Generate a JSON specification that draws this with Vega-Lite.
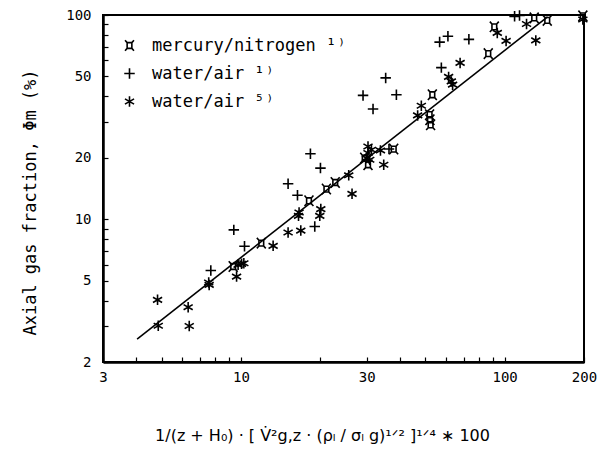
{
  "$schema": "https://vega.github.io/schema/vega-lite/v6.json",
  "autosize": {"type": "none"},
  "padding": {"left": 103, "top": 15, "right": 17, "bottom": 107},
  "width": 481,
  "height": 347,
  "background": "white",
  "config": {
    "view": {"stroke": "black", "strokeWidth": 2},
    "axis": {
      "grid": false,
      "domainColor": "black",
      "domainWidth": 2.5,
      "tickColor": "black",
      "tickWidth": 1.2,
      "tickSize": -5,
      "labelFont": "DejaVu Sans Mono",
      "labelFontSize": 14,
      "labelColor": "black",
      "labelFlush": false,
      "labelOverlap": false,
      "titleColor": "black",
      "titleFontWeight": "normal"
    }
  },
  "datasets": {
    "pts": [
      {"x": 4.83, "y": 4.03, "s": "water/air ⁵⁾"},
      {"x": 4.86, "y": 3.01, "s": "water/air ⁵⁾"},
      {"x": 6.31, "y": 3.71, "s": "water/air ⁵⁾"},
      {"x": 6.37, "y": 3.0, "s": "water/air ⁵⁾"},
      {"x": 7.58, "y": 4.77, "s": "water/air ⁵⁾"},
      {"x": 7.55, "y": 4.9, "s": "water/air ⁵⁾"},
      {"x": 9.76, "y": 5.98, "s": "water/air ⁵⁾"},
      {"x": 10.06, "y": 6.05, "s": "water/air ⁵⁾"},
      {"x": 10.26, "y": 6.09, "s": "water/air ⁵⁾"},
      {"x": 9.63, "y": 5.24, "s": "water/air ⁵⁾"},
      {"x": 13.25, "y": 7.41, "s": "water/air ⁵⁾"},
      {"x": 15.1, "y": 8.61, "s": "water/air ⁵⁾"},
      {"x": 16.87, "y": 8.8, "s": "water/air ⁵⁾"},
      {"x": 16.62, "y": 10.79, "s": "water/air ⁵⁾"},
      {"x": 16.54, "y": 10.39, "s": "water/air ⁵⁾"},
      {"x": 20.09, "y": 11.21, "s": "water/air ⁵⁾"},
      {"x": 19.91, "y": 10.39, "s": "water/air ⁵⁾"},
      {"x": 25.64, "y": 16.41, "s": "water/air ⁵⁾"},
      {"x": 26.39, "y": 13.32, "s": "water/air ⁵⁾"},
      {"x": 30.34, "y": 22.72, "s": "water/air ⁵⁾"},
      {"x": 31.26, "y": 21.89, "s": "water/air ⁵⁾"},
      {"x": 29.92, "y": 19.93, "s": "water/air ⁵⁾"},
      {"x": 30.8, "y": 19.55, "s": "water/air ⁵⁾"},
      {"x": 30.34, "y": 21.09, "s": "water/air ⁵⁾"},
      {"x": 33.82, "y": 21.72, "s": "water/air ⁵⁾"},
      {"x": 34.8, "y": 18.48, "s": "water/air ⁵⁾"},
      {"x": 48.33, "y": 35.96, "s": "water/air ⁵⁾"},
      {"x": 46.8, "y": 32.24, "s": "water/air ⁵⁾"},
      {"x": 61.33, "y": 49.75, "s": "water/air ⁵⁾"},
      {"x": 62.8, "y": 47.3, "s": "water/air ⁵⁾"},
      {"x": 63.5, "y": 45.6, "s": "water/air ⁵⁾"},
      {"x": 67.8, "y": 58.25, "s": "water/air ⁵⁾"},
      {"x": 101.3, "y": 74.65, "s": "water/air ⁵⁾"},
      {"x": 93.8, "y": 81.7, "s": "water/air ⁵⁾"},
      {"x": 121.1, "y": 90.4, "s": "water/air ⁵⁾"},
      {"x": 131.3, "y": 75.1, "s": "water/air ⁵⁾"},
      {"x": 198, "y": 95, "s": "water/air ⁵⁾"},
      {"x": 7.69, "y": 5.61, "s": "water/air ¹⁾"},
      {"x": 9.4, "y": 8.87, "s": "water/air ¹⁾"},
      {"x": 10.32, "y": 7.37, "s": "water/air ¹⁾"},
      {"x": 15.1, "y": 14.92, "s": "water/air ¹⁾"},
      {"x": 16.39, "y": 13.1, "s": "water/air ¹⁾"},
      {"x": 18.35, "y": 20.92, "s": "water/air ¹⁾"},
      {"x": 20.03, "y": 17.8, "s": "water/air ¹⁾"},
      {"x": 19.06, "y": 9.21, "s": "water/air ¹⁾"},
      {"x": 29.05, "y": 40.4, "s": "water/air ¹⁾"},
      {"x": 31.7, "y": 34.65, "s": "water/air ¹⁾"},
      {"x": 35.4, "y": 49.2, "s": "water/air ¹⁾"},
      {"x": 38.87, "y": 40.7, "s": "water/air ¹⁾"},
      {"x": 36.44, "y": 22.06, "s": "water/air ¹⁾"},
      {"x": 56.7, "y": 73.67, "s": "water/air ¹⁾"},
      {"x": 60.96, "y": 78.65, "s": "water/air ¹⁾"},
      {"x": 73.2, "y": 76.0, "s": "water/air ¹⁾"},
      {"x": 57.56, "y": 55.25, "s": "water/air ¹⁾"},
      {"x": 109.1, "y": 98.5, "s": "water/air ¹⁾"},
      {"x": 113.9, "y": 99.5, "s": "water/air ¹⁾"},
      {"x": 9.35, "y": 5.87, "s": "mercury/nitrogen ¹⁾"},
      {"x": 11.95, "y": 7.64, "s": "mercury/nitrogen ¹⁾"},
      {"x": 18.12, "y": 12.31, "s": "mercury/nitrogen ¹⁾"},
      {"x": 21.1, "y": 14.05, "s": "mercury/nitrogen ¹⁾"},
      {"x": 22.79, "y": 15.13, "s": "mercury/nitrogen ¹⁾"},
      {"x": 30.34, "y": 18.48, "s": "mercury/nitrogen ¹⁾"},
      {"x": 29.48, "y": 19.93, "s": "mercury/nitrogen ¹⁾"},
      {"x": 37.97, "y": 22.06, "s": "mercury/nitrogen ¹⁾"},
      {"x": 53.2, "y": 40.7, "s": "mercury/nitrogen ¹⁾"},
      {"x": 51.95, "y": 32.5, "s": "mercury/nitrogen ¹⁾"},
      {"x": 52.1, "y": 30.7, "s": "mercury/nitrogen ¹⁾"},
      {"x": 52.4, "y": 29.0, "s": "mercury/nitrogen ¹⁾"},
      {"x": 86.7, "y": 64.7, "s": "mercury/nitrogen ¹⁾"},
      {"x": 91.4, "y": 87.5, "s": "mercury/nitrogen ¹⁾"},
      {"x": 129.5, "y": 96.8, "s": "mercury/nitrogen ¹⁾"},
      {"x": 145.1, "y": 94.1, "s": "mercury/nitrogen ¹⁾"},
      {"x": 198, "y": 99, "s": "mercury/nitrogen ¹⁾"}
    ],
    "fit": [
      {"x": 4.04, "y": 2.59},
      {"x": 145.5, "y": 98}
    ]
  },
  "layer": [
    {
      "data": {"name": "fit"},
      "mark": {"type": "line", "color": "black", "strokeWidth": 1.6},
      "encoding": {
        "x": {"field": "x", "type": "quantitative", "scale": {"type": "log", "domain": [3, 200], "nice": false},
          "axis": {
            "values": [3, 4, 5, 6, 7, 8, 9, 10, 20, 30, 40, 50, 60, 70, 80, 90, 100, 200],
            "labelExpr": "indexof([3,10,30,100,200], datum.value) >= 0 ? datum.value : ''",
            "labelPadding": 13,
            "title": "1/(z + H₀) · [ V̇²g,z · (ρₗ / σₗ g)¹ᐟ² ]¹ᐟ⁴ ∗ 100",
            "titleFont": "DejaVu Sans",
            "titleFontSize": 16,
            "titleX": 219,
            "titleY": 73,
            "titleBaseline": "middle"
          }
        },
        "y": {"field": "y", "type": "quantitative", "scale": {"type": "log", "domain": [2, 100], "nice": false},
          "axis": {
            "values": [2, 3, 4, 5, 6, 7, 8, 9, 10, 20, 30, 40, 50, 60, 70, 80, 90, 100],
            "labelExpr": "indexof([2,5,10,20,50,100], datum.value) >= 0 ? datum.value : ''",
            "labelPadding": 17,
            "title": "Axial gas fraction, Φm (%)",
            "titleFont": "DejaVu Sans Mono",
            "titleFontSize": 17,
            "titleX": -73,
            "titleY": 187,
            "titleAngle": -90,
            "titleAlign": "center",
            "titleBaseline": "middle"
          }
        }
      }
    },
    {
      "data": {"name": "pts"},
      "mark": {"type": "point", "filled": false, "color": "black", "strokeWidth": 1.6, "size": 110, "opacity": 1},
      "encoding": {
        "x": {"field": "x", "type": "quantitative"},
        "y": {"field": "y", "type": "quantitative"},
        "shape": {
          "field": "s",
          "type": "nominal",
          "scale": {
            "domain": ["mercury/nitrogen ¹⁾", "water/air ¹⁾", "water/air ⁵⁾"],
            "range": [
              "M-0.45,-0.55 L0.45,-0.55 L0.45,0.55 L-0.45,0.55 Z M-0.45,-0.55 L-0.85,-1 M0.45,-0.55 L0.85,-1 M0.45,0.55 L0.85,1 M-0.45,0.55 L-0.85,1",
              "M-1,0 L1,0 M0,-1 L0,1",
              "M0,-1 L0,1 M-0.87,-0.5 L0.87,0.5 M-0.87,0.5 L0.87,-0.5"
            ]
          },
          "legend": {
            "title": null,
            "orient": "none",
            "legendX": 18,
            "legendY": 22,
            "padding": 0,
            "rowPadding": 10,
            "labelFont": "DejaVu Sans Mono",
            "labelFontSize": 17,
            "labelColor": "black",
            "labelOffset": 14,
            "labelLimit": 0,
            "symbolSize": 110,
            "symbolStrokeColor": "black",
            "symbolFillColor": "transparent",
            "symbolStrokeWidth": 1.6
          }
        }
      }
    }
  ]
}
